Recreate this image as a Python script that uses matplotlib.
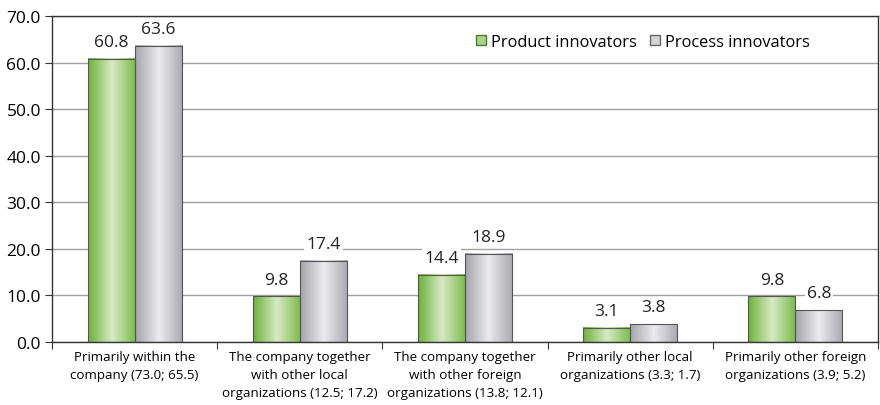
import numpy as np
import matplotlib.pyplot as plt
from matplotlib.colors import LinearSegmentedColormap
from matplotlib.patches import Patch

plt.rcParams['font.family'] = ['Open Sans', 'DejaVu Sans']

categories = ['Primarily within the\ncompany (73.0; 65.5)',
              'The company together\nwith other local\norganizations (12.5; 17.2)',
              'The company together\nwith other foreign\norganizations (13.8; 12.1)',
              'Primarily other local\norganizations (3.3; 1.7)',
              'Primarily other foreign\norganizations (3.9; 5.2)']
product = [60.8, 9.8, 14.4, 3.1, 9.8]
process = [63.6, 17.4, 18.9, 3.8, 6.8]

green_cm = LinearSegmentedColormap.from_list('g', ['#6fb23c', '#d6eac3', '#7dbb4c'])
gray_cm = LinearSegmentedColormap.from_list('s', ['#a4a5ab', '#ebebee', '#a9aab0'])

fig = plt.figure(figsize=(8.8, 4.06), dpi=100)
ax = fig.add_axes([52/880, 1-343/406, 826/880, 326/406])

x = np.arange(len(categories))
w = 0.285
grad = np.linspace(0, 1, 64).reshape(1, -1)

b1 = ax.bar(x - w/2, product, w, facecolor='none', edgecolor='#555555', linewidth=0.8, zorder=3)
b2 = ax.bar(x + w/2, process, w, facecolor='none', edgecolor='#555555', linewidth=0.8, zorder=3)

for bars, cm in [(b1, green_cm), (b2, gray_cm)]:
    for p in bars:
        x0 = p.get_x()
        ax.imshow(grad, cmap=cm, aspect='auto', zorder=2,
                  extent=(x0, x0 + p.get_width(), 0, p.get_height()))
    for p in bars:
        ax.text(p.get_x() + p.get_width()/2, p.get_height() + 1.9, f'{p.get_height():.1f}',
                ha='center', va='bottom', fontsize=12.5, color='#222222', zorder=4,
                bbox=dict(facecolor='white', edgecolor='none', pad=1.5))

ax.set_xlim(-0.5, 4.5)
ax.set_ylim(0, 70)
ax.set_yticks(np.arange(0, 71, 10))
ax.set_yticklabels([f'{v:.1f}' for v in np.arange(0, 71, 10)], fontsize=12.5)
ax.yaxis.grid(True, color='#a0a0a0', linewidth=1)
ax.set_axisbelow(True)

ax.set_xticks(np.arange(-0.5, 5, 1))
ax.set_xticklabels([])
ax.set_xticks(x, minor=True)
ax.set_xticklabels(categories, minor=True, fontsize=9.6, linespacing=1.5)
ax.tick_params(axis='x', which='minor', length=0, pad=6)
ax.tick_params(axis='x', which='major', length=5, direction='out', color='#333333')
ax.tick_params(axis='y', length=5, color='#333333', pad=3)

for s in ax.spines.values():
    s.set_color('#333333')
    s.set_linewidth(1)

handles = [Patch(facecolor='#a8d48a', edgecolor='#4a7a2a'),
           Patch(facecolor='#d4d4d8', edgecolor='#666666')]
ax.legend(handles, ['Product innovators', 'Process innovators'], loc='upper right',
          bbox_to_anchor=(0.935, 0.99), ncol=2, frameon=False, fontsize=11.8,
          handlelength=0.6, handleheight=0.6, handletextpad=0.3, columnspacing=0.8)

fig.savefig('out.png', dpi=100)
